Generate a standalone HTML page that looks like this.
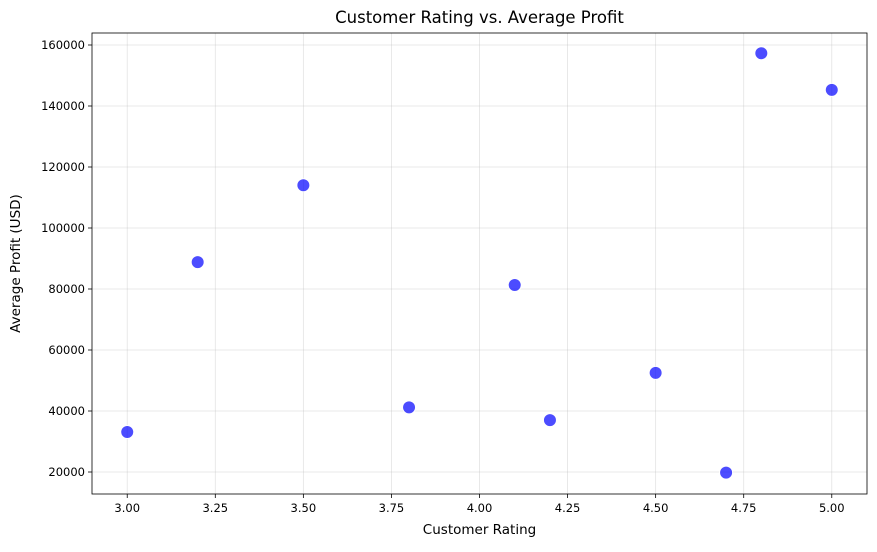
<!DOCTYPE html>
<html><head><meta charset="utf-8"><style>
body{margin:0;background:#fff;font-family:"Liberation Sans","DejaVu Sans",sans-serif;}
svg text{font-family:"DejaVu Sans","Liberation Sans",sans-serif;}
</style></head><body>
<svg id="c" width="877" height="547"></svg>
<script>
const ratings=[3.0,3.2,3.5,3.8,4.1,4.2,4.5,4.7,4.8,5.0];
const profits=[33100,88800,114000,41200,81300,37000,52500,19800,157300,145300];
const xTicks=[3.00,3.25,3.50,3.75,4.00,4.25,4.50,4.75,5.00];
const yTicks=[20000,40000,60000,80000,100000,120000,140000,160000];
const L=92,R=867,T=33,B=494;
const x=v=>L+(v-2.9)/(5.1-2.9)*(R-L);
const y=v=>B-(v-12787)/(163934-12787)*(B-T);
const s=document.getElementById('c');const NS='http://www.w3.org/2000/svg';
function mk(t,a,txt){const e=document.createElementNS(NS,t);for(const k in a)e.setAttribute(k,a[k]);if(txt!==undefined)e.textContent=txt;s.appendChild(e);return e;}
xTicks.forEach(t=>{const g=mk('line',{x1:x(t),x2:x(t),y1:T,y2:B,stroke:'#b0b0b0','stroke-opacity':0.35,'stroke-width':0.8});

mk('line',{x1:x(t),x2:x(t),y1:B,y2:B+4,stroke:'#000','stroke-width':0.8});
const l=mk('text',{x:x(t),y:B+18,'text-anchor':'middle','font-size':11.5},t.toFixed(2));
});
yTicks.forEach(t=>{const g=mk('line',{x1:L,x2:R,y1:y(t),y2:y(t),stroke:'#b0b0b0','stroke-opacity':0.35,'stroke-width':0.8});

mk('line',{x1:L-4,x2:L,y1:y(t),y2:y(t),stroke:'#000','stroke-width':0.8});
const l=mk('text',{x:L-7,y:y(t)+4,'text-anchor':'end','font-size':11.5},String(t));
});
ratings.forEach((r,i)=>{const c=mk('circle',{cx:x(r),cy:y(profits[i]),r:6.5,fill:'rgba(0,0,255,0.7)',stroke:'#fff','stroke-width':1});
});
const f=mk('rect',{x:L,y:T,width:R-L,height:B-T,fill:'none',stroke:'#000','stroke-width':0.8});

const ti=mk('text',{x:(L+R)/2,y:23,'text-anchor':'middle','font-size':16.5},'Customer Rating vs. Average Profit');

const xt=mk('text',{x:(L+R)/2,y:534,'text-anchor':'middle','font-size':13.5},'Customer Rating');

const yt=mk('text',{x:20,y:(T+B)/2,'text-anchor':'middle','font-size':13.5,transform:`rotate(-90 20 ${(T+B)/2})`},'Average Profit (USD)');

</script>
</body></html>
